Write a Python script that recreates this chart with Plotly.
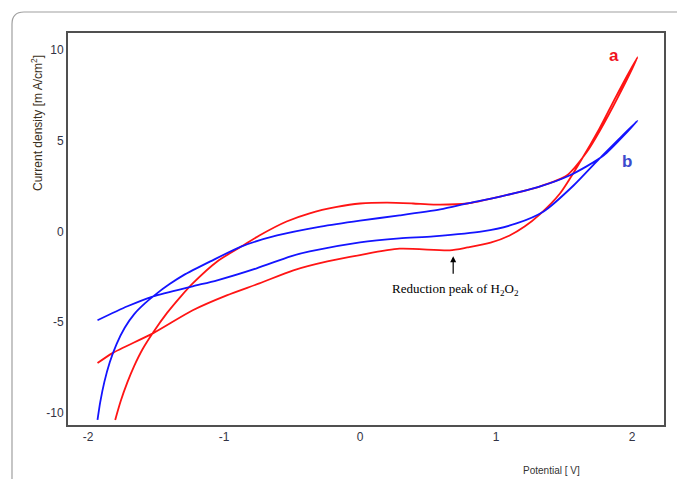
import plotly.graph_objects as go

# Curve a (red): forward (upper) branch then reverse (lower) branch
a_up_x = [-1.80, -1.76, -1.71, -1.66, -1.60, -1.52, -1.42, -1.32, -1.23, -1.05, -0.87, -0.74, -0.54, -0.37, -0.17, 0.00, 0.20, 0.39, 0.54, 0.79, 1.03, 1.32, 1.52, 1.67, 1.76, 1.89, 2.04]
a_up_y = [-10.38, -9.35, -8.30, -7.40, -6.50, -5.55, -4.50, -3.60, -2.86, -1.65, -0.82, -0.22, 0.55, 1.00, 1.35, 1.54, 1.59, 1.54, 1.48, 1.54, 1.92, 2.47, 3.08, 4.40, 5.50, 7.30, 9.60]
a_dn_x = [2.04, 1.88, 1.76, 1.62, 1.47, 1.32, 1.21, 1.10, 0.96, 0.79, 0.66, 0.29, 0.00, -0.24, -0.49, -0.74, -0.98, -1.23, -1.52, -1.82, -1.93]
a_dn_y = [9.60, 7.40, 5.66, 3.85, 2.09, 0.93, 0.27, -0.22, -0.62, -0.88, -1.04, -0.95, -1.30, -1.65, -2.14, -2.86, -3.52, -4.34, -5.60, -6.70, -7.25]

# Curve b (blue)
b_up_x = [-1.93, -1.91, -1.88, -1.84, -1.79, -1.73, -1.66, -1.58, -1.50, -1.40, -1.30, -1.10, -0.87, -0.61, -0.29, 0.00, 0.29, 0.59, 0.79, 1.03, 1.32, 1.54, 1.79, 2.04]
b_up_y = [-10.38, -9.40, -8.30, -7.20, -6.20, -5.30, -4.55, -3.95, -3.45, -2.90, -2.42, -1.65, -0.82, -0.22, 0.27, 0.60, 0.88, 1.21, 1.54, 1.92, 2.47, 3.08, 4.18, 6.10]
b_dn_x = [2.04, 1.76, 1.57, 1.35, 1.15, 0.90, 0.54, 0.29, 0.00, -0.37, -0.51, -0.76, -1.05, -1.23, -1.52, -1.71, -1.93]
b_dn_y = [6.10, 4.01, 2.53, 1.10, 0.44, 0.00, -0.27, -0.38, -0.60, -1.10, -1.37, -2.03, -2.69, -3.02, -3.57, -4.12, -4.89]

x_ticks = [-2, -1, 0, 1, 2]
x_ticklabels = ["-2", "-1", "0", "1", "2"]
y_ticks = [-10, -5, 0, 5, 10]
y_ticklabels = ["-10", "-5", "0", "5", "10"]

fig = go.Figure()
fig.add_trace(go.Scatter(x=a_up_x + a_dn_x[1:], y=a_up_y + a_dn_y[1:], mode="lines",
                         line=dict(color="rgb(255,20,20)", width=1.8, shape="spline", smoothing=0.7),
                         showlegend=False))
fig.add_trace(go.Scatter(x=b_up_x + b_dn_x[1:], y=b_up_y + b_dn_y[1:], mode="lines",
                         line=dict(color="rgb(20,20,255)", width=1.8, shape="spline", smoothing=0.7),
                         showlegend=False))

W, H = 677, 479
L, R, T, B = 68, 13, 33, 54
pw, ph = W - L - R, H - T - B

def px(x):
    return (x - L) / pw

def py(y):
    return (H - B - y) / ph

# outer rounded frame
path = (f"M {px(12)},{py(500)} L {px(12)},{py(24)} Q {px(12)},{py(12)} {px(24)},{py(12)} "
        f"L {px(700)},{py(12)}")
fig.add_shape(type="path", path=path, xref="paper", yref="paper",
              line=dict(color="#a0a0a0", width=1.2))

axis_common = dict(showgrid=False, zeroline=False, showline=True, mirror=True,
                   linecolor="#505050", linewidth=2, ticks="",
                   tickfont=dict(family="Liberation Sans, Arial", size=12, color="#333344"))

fig.update_layout(
    width=W, height=H,
    margin=dict(l=L, r=R, t=T, b=B),
    paper_bgcolor="white", plot_bgcolor="white",
    xaxis=dict(range=[-2.147, 2.235], tickvals=x_ticks, ticktext=x_ticklabels, **axis_common),
    yaxis=dict(range=[-10.66, 10.93], tickvals=y_ticks, ticktext=y_ticklabels, **axis_common),
)

fig.add_annotation(x=px(37), y=py(123), xref="paper", yref="paper", textangle=-90,
                   xanchor="center", yanchor="middle",
                   text="Current density [m A/cm<sup>2</sup>]", showarrow=False,
                   font=dict(family="Liberation Sans, Arial", size=12, color="#3a3020"))
fig.add_annotation(x=px(551), y=py(470), xref="paper", yref="paper",
                   xanchor="center", yanchor="middle",
                   text="Potential [ V]", showarrow=False,
                   font=dict(family="Liberation Sans, Arial", size=10, color="#333333"))

fig.add_annotation(x=1.87, y=9.67, text="<b>a</b>", showarrow=False,
                   font=dict(family="Liberation Sans, Arial", size=17, color="rgb(240,20,30)"))
fig.add_annotation(x=1.96, y=3.85, text="<b>b</b>", showarrow=False,
                   font=dict(family="Liberation Sans, Arial", size=17, color="rgb(60,75,205)"))

fig.add_annotation(x=0.685, y=-1.37, ax=0, ay=19, text="", showarrow=True,
                   arrowhead=2, arrowsize=1, arrowwidth=1.2, arrowcolor="black")
fig.add_annotation(x=0.70, y=-3.19, text="Reduction peak of H<sub>2</sub>O<sub>2</sub>",
                   showarrow=False,
                   font=dict(family="Liberation Serif, Times New Roman", size=13, color="black"))

fig.write_html("out.html")
